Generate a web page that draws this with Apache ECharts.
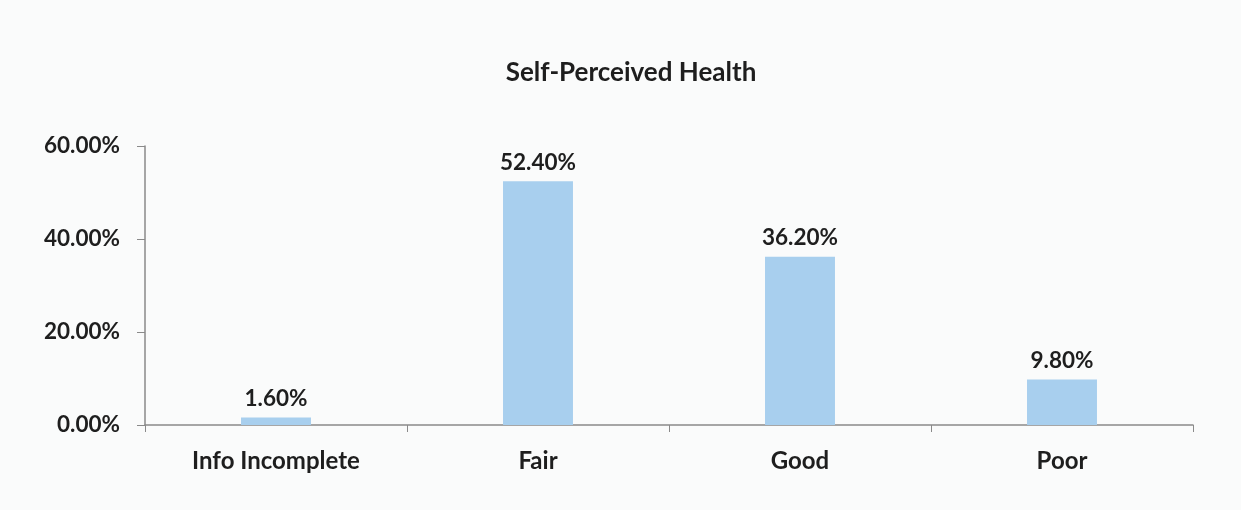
<!DOCTYPE html>
<html><head><meta charset="utf-8">
<script src="https://cdn.jsdelivr.net/npm/echarts@6/dist/echarts.min.js"></script>
<style>html,body{margin:0;padding:0;background:#fafbfb;}#c{width:1241px;height:510px;}</style>
</head><body><div id="c"></div>
<script>
const categories = ["Info Incomplete", "Fair", "Good", "Poor"];
const values = [1.6, 52.4, 36.2, 9.8];
const yTicks = [0, 20, 40, 60];
const titleText = "Self-Perceived Health";

const font = "Lato, 'Open Sans', sans-serif";
const chart = echarts.init(document.getElementById('c'), null, {renderer: 'canvas'});
chart.setOption({
  backgroundColor: '#fafbfb',
  animation: false,
  title: {text: titleText, left: 626, top: 55, textAlign: 'center',
    textStyle: {fontFamily: font, fontWeight: 'bold', fontSize: 26, color: '#1e1e1e'}},
  grid: {left: 145, right: 48, top: 146, bottom: 85, containLabel: false},
  xAxis: {type: 'category', data: categories,
    axisLine: {lineStyle: {color: '#8a8a8a', width: 1.5}},
    axisTick: {show: true, length: 7, lineStyle: {color: '#8a8a8a'}},
    axisLabel: {fontFamily: font, fontWeight: 'bold', fontSize: 24, color: '#1e1e1e', margin: 24}},
  yAxis: {type: 'value', min: yTicks[0], max: yTicks[yTicks.length-1], interval: 20,
    axisLine: {show: true, lineStyle: {color: '#8a8a8a', width: 1.5}},
    axisTick: {show: true, length: 8, lineStyle: {color: '#8a8a8a'}},
    splitLine: {show: false},
    axisLabel: {fontFamily: font, fontWeight: 'bold', fontSize: 22.5, color: '#1e1e1e', margin: 25,
      formatter: v => v.toFixed(2) + '%'}},
  series: [{type: 'bar', data: values, barWidth: '26.7%',
    itemStyle: {color: '#a8cfee'},
    label: {show: true, position: 'top', distance: 7, fontFamily: font, fontWeight: 'bold', fontSize: 22.5, color: '#1e1e1e',
      formatter: p => p.value.toFixed(2) + '%'}}]
});
</script></body></html>
